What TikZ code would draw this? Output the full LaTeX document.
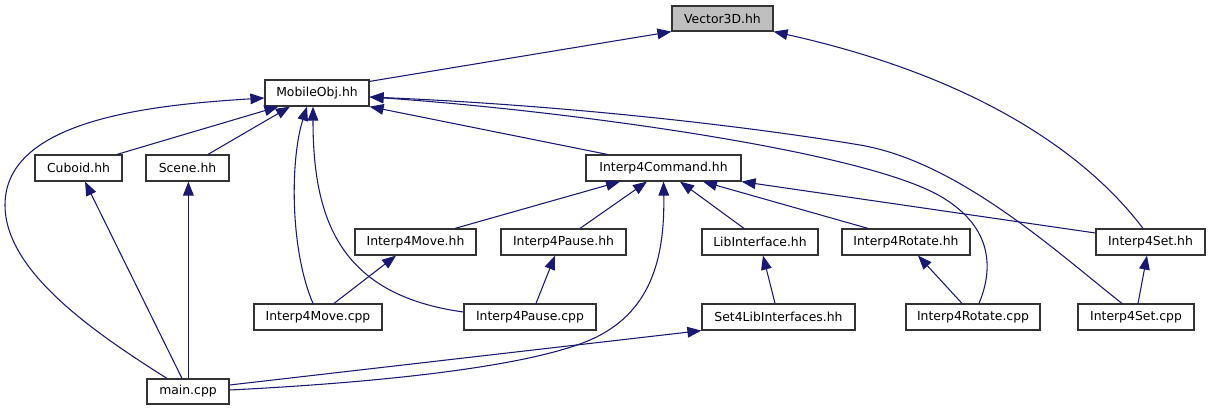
\documentclass[tikz,border=0pt]{standalone}
\usepackage{fontspec}
\setmainfont{DejaVu Sans}
\usetikzlibrary{arrows.meta,calc}
\definecolor{edgeblue}{RGB}{25,25,112}
\definecolor{hdrgray}{RGB}{191,191,191}
\begin{document}
\begin{tikzpicture}[x=0.75pt,y=-0.75pt,
  box/.style={draw=black!80, line width=0.9pt, fill=white, inner sep=0pt,
    minimum height=19.5pt, font=\fontsize{9.3}{11}\selectfont},
  dep/.style={draw=edgeblue, line width=0.8pt,
    -{Triangle[length=10.5pt,width=8pt]}}]
\useasboundingbox (0,0) rectangle (1211,411);
% nodes
\node[box, fill=hdrgray, minimum width=75.75pt, minimum height=18.75pt] (vec) at (722.5,18.5) {Vector3D.hh};
\node[box, minimum width=78pt] (mobj) at (317,93) {MobileObj.hh};
\node[box, minimum width=65.25pt] (cuboid) at (78.5,168) {Cuboid.hh};
\node[box, minimum width=62.25pt] (scene) at (187.5,168) {Scene.hh};
\node[box, minimum width=116.25pt] (cmd) at (663.5,168) {Interp4Command.hh};
\node[box, minimum width=90.75pt] (moveh) at (415.5,242) {Interp4Move.hh};
\node[box, minimum width=93.75pt] (pauseh) at (563.5,242) {Interp4Pause.hh};
\node[box, minimum width=87pt] (libh) at (760,242) {LibInterface.hh};
\node[box, minimum width=96pt] (roth) at (906,242) {Interp4Rotate.hh};
\node[box, minimum width=81.75pt] (seth) at (1150.5,242) {Interp4Set.hh};
\node[box, minimum width=96pt] (movec) at (318,317) {Interp4Move.cpp};
\node[box, minimum width=99pt] (pausec) at (530,317) {Interp4Pause.cpp};
\node[box, minimum width=114.75pt] (set4) at (778.5,317) {Set4LibInterfaces.hh};
\node[box, minimum width=100.5pt] (rotc) at (973,317) {Interp4Rotate.cpp};
\node[box, minimum width=87pt] (setc) at (1136,317) {Interp4Set.cpp};
\node[box, minimum width=61.5pt, minimum height=18.75pt] (main) at (188,391.5) {main.cpp};
% edges to Vector3D
\draw[dep] ($(mobj.north east)+(0,2)$) -- (vec.south west);
\draw[dep] ($(seth.north)+(-7.5,0)$) .. controls (1083,149) and (969,75) .. (vec.south east);
% edges to MobileObj
\draw[dep] ($(cuboid.north)+(38.5,0)$) -- ($(mobj.south west)+(14,0)$);
\draw[dep] ($(scene.north)+(20.5,0)$) -- ($(mobj.south)+(-27,0)$);
\draw[dep] ($(main.north)+(-21,0)$) .. controls (90,330) and (5,270) .. (5,205)
  .. controls (5,120) and (150,105) .. ($(mobj.west)+(0,5)$);
\draw[dep] ($(movec.north)+(-5,0)$) .. controls (290,250) and (290,160) .. ($(mobj.south)+(-10,0)$);
\draw[dep] ($(pausec.west)+(0,-5)$) .. controls (340,295) and (313,220) .. ($(mobj.south)+(-4,0)$);
\draw[dep] ($(cmd.north west)+(22,0)$) -- (mobj.south east);
\draw[dep] ($(rotc.north)+(6,0)$) .. controls (995,265) and (990,225) .. (940,196)
  .. controls (860,150) and (560,110) .. ($(mobj.east)+(0,4)$);
\draw[dep] ($(setc.north)+(-14,0)$) .. controls (1060,255) and (960,162) .. (860,145)
  .. controls (740,125) and (560,105) .. ($(mobj.east)+(0,4)$);
% edges to Interp4Command
\draw[dep] ($(moveh.north)+(39.5,0)$) -- ($(cmd.south)+(-43.5,0)$);
\draw[dep] ($(pauseh.north)+(16.5,0)$) -- ($(cmd.south)+(-16.5,0)$);
\draw[dep] ($(main.east)+(0,-1.5)$) .. controls (350,384) and (520,370) .. (590,340)
  .. controls (650,314) and (665,260) .. (cmd.south);
\draw[dep] ($(libh.north)+(-16,0)$) -- ($(cmd.south)+(16.5,0)$);
\draw[dep] ($(roth.north)+(-38,0)$) -- ($(cmd.south)+(39.5,0)$);
\draw[dep] ($(seth.west)+(0,-9)$) -- (cmd.south east);
% lower edges
\draw[dep] ($(movec.north)+(16,0)$) -- ($(moveh.south)+(-19.5,0)$);
\draw[dep] ($(pausec.north)+(6,0)$) -- ($(pauseh.south)+(-8.5,0)$);
\draw[dep] ($(set4.north)+(-3.5,0)$) -- ($(libh.south)+(3,0)$);
\draw[dep] ($(main.east)+(0,-6.5)$) -- (set4.south west);
\draw[dep] ($(rotc.north)+(-11,0)$) -- ($(roth.south)+(12,0)$);
\draw[dep] ($(setc.north)+(2,0)$) -- ($(seth.south)+(-3.5,0)$);
\draw[dep] ($(main.north)+(-6,0)$) -- ($(cuboid.south)+(6.5,0)$);
\draw[dep] ($(main.north)+(0.4,0)$) -- ($(scene.south)+(0.9,0)$);
\end{tikzpicture}
\end{document}
